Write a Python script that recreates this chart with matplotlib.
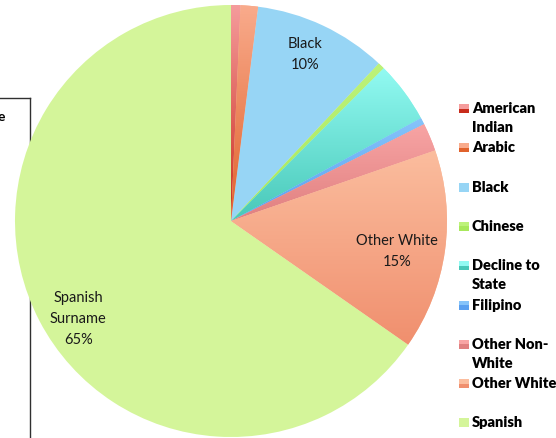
import matplotlib
matplotlib.use("Agg")
import matplotlib.pyplot as plt
import numpy as np
from matplotlib.colors import LinearSegmentedColormap, to_rgb
from matplotlib.lines import Line2D
from matplotlib.patches import Rectangle

plt.rcParams["font.family"] = ["Lato", "DejaVu Sans"]

categories = ["American Indian", "Arabic", "Black", "Chinese", "Decline to State",
              "Filipino", "Other Non-White", "Other White", "Spanish Surname"]
legend_labels = ["American\nIndian", "Arabic", "Black", "Chinese", "Decline to\nState",
                 "Filipino", "Other Non-\nWhite", "Other White", "Spanish"]
shares = [0.7, 1.3, 10.0, 0.5, 4.6, 0.5, 2.1, 15.0, 65.3]
labelled = {"Black": "Black\n10%", "Other White": "Other White\n15%",
            "Spanish Surname": "Spanish\nSurname\n65%"}

# top / bottom colours of each slice's vertical gradient
top_colors = ["#f59c9c", "#f9ab8c", "#97d5f5", "#bdf27a", "#92faf2",
              "#86c4fa", "#f8a4a4", "#fbbd9e", "#d4f59a"]
bot_colors = ["#c82c1c", "#e0622c", "#97d5f5", "#a8e85c", "#48c8b8",
              "#5aa0f0", "#e08080", "#f08f6e", "#d4f59a"]
# label placement: radius fraction and angle nudge (degrees)
label_pos = {"Black": (0.845, 1.2), "Other White": (0.78, -2.5),
             "Spanish Surname": (0.84, 5.2)}

W, H = 556, 438
fig = plt.figure(figsize=(W / 100, H / 100), dpi=100)

cx, cy, r = 231, 221, 216
ax = fig.add_axes([(cx - r) / W, (H - cy - r) / H, 2 * r / W, 2 * r / H])
wedges, _ = ax.pie(shares, startangle=90, counterclock=False, radius=1,
                   colors=top_colors, wedgeprops=dict(linewidth=0))

for w, c0, c1 in zip(wedges, top_colors, bot_colors):
    w.set_clip_on(False)
    if c0 == c1:
        continue
    verts = w.get_path().vertices
    y0, y1 = verts[:, 1].min(), verts[:, 1].max()
    x0, x1 = verts[:, 0].min(), verts[:, 0].max()
    cmap = LinearSegmentedColormap.from_list("g", [to_rgb(c1), to_rgb(c0)])
    grad = np.linspace(0, 1, 256).reshape(-1, 1)
    im = ax.imshow(grad, cmap=cmap, origin="lower", aspect="auto",
                   extent=(x0, x1, y0, y1), interpolation="bilinear", zorder=1.5)
    im.set_clip_path(w)
ax.set_xlim(-1, 1)
ax.set_ylim(-1, 1)
ax.set_aspect("equal")

# slice labels
for w, name in zip(wedges, categories):
    if name not in labelled:
        continue
    rr, nudge = label_pos[name]
    ang = np.deg2rad((w.theta1 + w.theta2) / 2 + nudge)
    ax.text(rr * np.cos(ang), rr * np.sin(ang), labelled[name], ha="center",
            va="center", fontsize=10.5, color="#1a1a1a", linespacing=1.65, zorder=3)

# legend, drawn by hand in pixel positions
for i, (lab, c0, c1) in enumerate(zip(legend_labels, top_colors, bot_colors)):
    yc = 108.5 + i * 39.3
    fig.patches.append(Rectangle((459 / W, 1 - (yc + 4.5) / H), 10 / W, 9 / H,
                                 transform=fig.transFigure, facecolor=c1,
                                 edgecolor="none"))
    fig.patches.append(Rectangle((459 / W, 1 - yc / H), 10 / W, 4.5 / H,
                                 transform=fig.transFigure, facecolor=c0,
                                 edgecolor="none"))
    for k, line in enumerate(lab.split("\n")):
        fig.text(472 / W, 1 - (yc + k * 19) / H, line, ha="left", va="center",
                 fontsize=10.5, fontweight="heavy", color="#000000")

# leftover frame at the left edge
fig.add_artist(Line2D([0, 30 / W], [1 - 98 / H, 1 - 98 / H], color="#303030",
                      lw=1, transform=fig.transFigure, zorder=-1))
fig.add_artist(Line2D([30 / W, 30 / W], [1 - 98 / H, 0], color="#303030",
                      lw=1, transform=fig.transFigure, zorder=-1))
fig.text(-2 / W, 1 - 117 / H, "e", ha="left", va="center", fontsize=10,
         fontweight="bold", zorder=-1)

fig.savefig("out.png", dpi=100)
